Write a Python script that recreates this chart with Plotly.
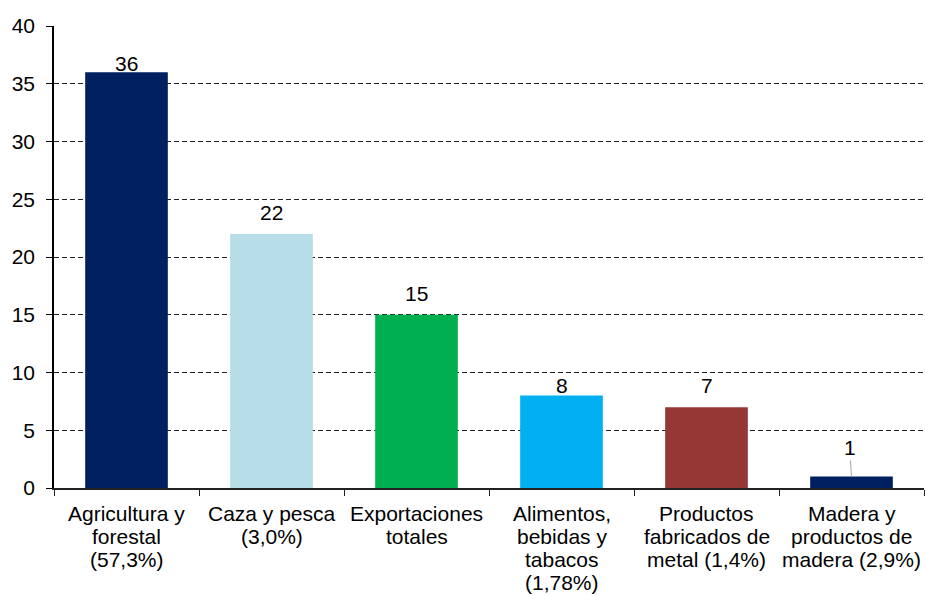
import plotly.graph_objects as go

categories = [
    "Agricultura y<br>forestal<br>(57,3%)",
    "Caza y pesca<br>(3,0%)",
    "Exportaciones<br>totales",
    "Alimentos,<br>bebidas y<br>tabacos<br>(1,78%)",
    "Productos<br>fabricados de<br>metal (1,4%)",
    "Madera y<br>productos de<br>madera (2,9%)",
]
values = [36, 22, 15, 8, 7, 1]
value_labels = ["36", "22", "15", "8", "7", "1"]
colors = ["#002060", "#B7DEE8", "#00B050", "#00B0F0", "#953735", "#002060"]
label_shift = [9, 21, 21, 10, 22, None]

FONT = "Liberation Sans, Arial, sans-serif"
FS = 21

fig = go.Figure()
fig.add_trace(go.Bar(x=categories, y=values, marker=dict(color=colors, line=dict(width=0)),
                     width=0.57, hoverinfo="skip"))

for c, v, t, s in zip(categories, values, value_labels, label_shift):
    if s is None:
        fig.add_annotation(x=c, y=v, text=t, showarrow=True, arrowhead=0, arrowwidth=1,
                           arrowcolor="#A6A6A6", ax=-2, ay=-29, standoff=0,
                           font=dict(family=FONT, size=FS, color="black"))
    else:
        fig.add_annotation(x=c, y=v, text=t, showarrow=False, yanchor="middle", yshift=s,
                           font=dict(family=FONT, size=FS, color="black"))

# category labels, one annotation per line (tight Excel-like line spacing)
for c in categories:
    for i, line in enumerate(c.split("<br>")):
        fig.add_annotation(x=c, xref="x", y=0, yref="paper", text=line, showarrow=False,
                           yanchor="middle", yshift=-(25 + 23 * i),
                           font=dict(family=FONT, size=FS, color="black"))

fig.update_layout(
    width=925, height=595,
    margin=dict(l=54, r=1, t=26, b=107),
    paper_bgcolor="white", plot_bgcolor="white",
    showlegend=False,
    font=dict(family=FONT, size=FS, color="black"),
    bargap=0.43,
)
fig.update_yaxes(range=[0, 40], dtick=5, showgrid=True, gridcolor="#222222", griddash="5px,3px",
                 gridwidth=1, showline=True, linecolor="black", linewidth=1.5,
                 ticks="outside", ticklen=6, tickcolor="black", zeroline=False,
                 ticklabelstandoff=7, tickfont=dict(size=FS), fixedrange=True)
fig.update_xaxes(showline=True, linecolor="#222222", linewidth=2, ticks="outside",
                 tickson="boundaries", ticklen=6, tickcolor="#222222",
                 showticklabels=False, fixedrange=True)

fig.write_html("out.html", post_script="document.body.style.margin='0';",
               config={"displayModeBar": False})
